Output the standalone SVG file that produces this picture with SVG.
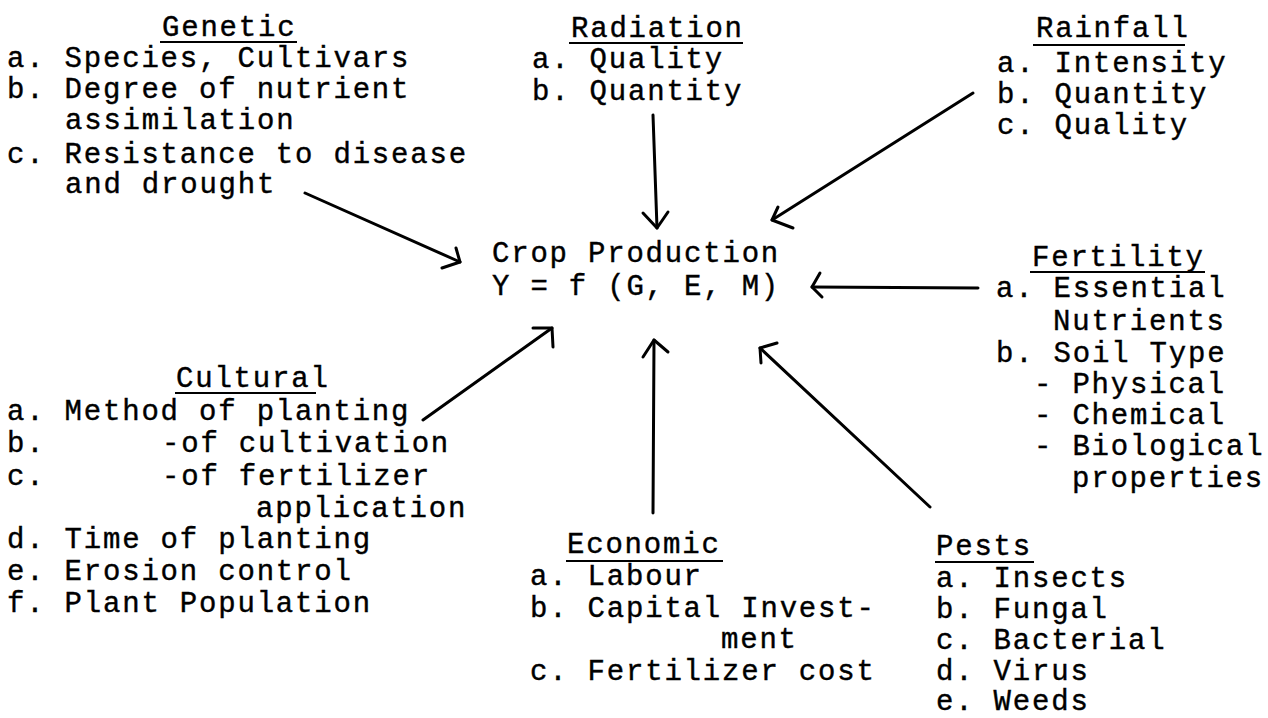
<svg xmlns="http://www.w3.org/2000/svg" width="1268" height="718" viewBox="0 0 1268 718">
<style>
text { font-family: "Liberation Mono", "DejaVu Sans Mono", monospace; font-size: 29px; letter-spacing: 1.8px; fill: #000; stroke: #000; stroke-width: 0.4; }
.ul { stroke: #000; stroke-width: 2; }
.conn line { stroke: #000; stroke-width: 3; stroke-linecap: round; }
.conn polyline { fill: none; stroke: #000; stroke-width: 3; stroke-linecap: round; stroke-linejoin: round; }
</style>
<rect width="1268" height="718" fill="#fff"/>

<g id="genetic">
<text x="162" y="36">Genetic</text>
<line class="ul" x1="160" y1="42" x2="297" y2="42"/>
<text x="7" y="67">a. Species, Cultivars</text>
<text x="7" y="98">b. Degree of nutrient</text>
<text x="65" y="129">assimilation</text>
<text x="7" y="163">c. Resistance to disease</text>
<text x="65" y="193">and drought</text>
</g>

<g id="radiation">
<text x="571" y="37">Radiation</text>
<line class="ul" x1="569" y1="43" x2="743" y2="43"/>
<text x="532" y="68">a. Quality</text>
<text x="532" y="100">b. Quantity</text>
</g>

<g id="rainfall">
<text x="1036" y="37">Rainfall</text>
<line class="ul" x1="1033" y1="45" x2="1185" y2="45"/>
<text x="997" y="72">a. Intensity</text>
<text x="997" y="103">b. Quantity</text>
<text x="997" y="134">c. Quality</text>
</g>

<g id="crop-production">
<text x="492" y="262">Crop Production</text>
<text x="492" y="295">Y = f (G, E, M)</text>
</g>

<g id="fertility">
<text x="1032" y="266">Fertility</text>
<line class="ul" x1="1030" y1="272" x2="1205" y2="272"/>
<text x="996" y="297">a. Essential</text>
<text x="1053" y="330">Nutrients</text>
<text x="996" y="362">b. Soil Type</text>
<text x="1034" y="393">- Physical</text>
<text x="1034" y="424">- Chemical</text>
<text x="1034" y="455">- Biological</text>
<text x="1072" y="487">properties</text>
</g>

<g id="cultural">
<text x="176" y="387">Cultural</text>
<line class="ul" x1="175" y1="393" x2="316" y2="393"/>
<text x="7" y="420">a. Method of planting</text>
<text x="7" y="452">b.</text>
<text x="162" y="452">-of cultivation</text>
<text x="7" y="485">c.</text>
<text x="162" y="485">-of fertilizer</text>
<text x="256" y="517">application</text>
<text x="7" y="548">d. Time of planting</text>
<text x="7" y="580">e. Erosion control</text>
<text x="7" y="612">f. Plant Population</text>
</g>

<g id="economic">
<text x="567" y="553">Economic</text>
<line class="ul" x1="566" y1="561" x2="723" y2="561"/>
<text x="530" y="585">a. Labour</text>
<text x="530" y="617">b. Capital Invest-</text>
<text x="721" y="648">ment</text>
<text x="530" y="680">c. Fertilizer cost</text>
</g>

<g id="pests">
<text x="936" y="555">Pests</text>
<line class="ul" x1="935" y1="562" x2="1034" y2="562"/>
<text x="936" y="587">a. Insects</text>
<text x="936" y="618">b. Fungal</text>
<text x="936" y="649">c. Bacterial</text>
<text x="936" y="680">d. Virus</text>
<text x="936" y="710">e. Weeds</text>
</g>

<g id="connectors" class="conn">
<line x1="305" y1="193" x2="460" y2="262"/>
<polyline points="456,248 460,262 442,268"/>
<line x1="653" y1="115" x2="657" y2="228"/>
<polyline points="643,213 657,228 668,212"/>
<line x1="973" y1="93" x2="772" y2="220"/>
<polyline points="778,207 772,220 793,228"/>
<line x1="978" y1="288" x2="812" y2="287"/>
<polyline points="820,273 812,287 822,297"/>
<line x1="930" y1="507" x2="760" y2="348"/>
<polyline points="777,343 760,348 761,363"/>
<line x1="653" y1="513" x2="654" y2="340"/>
<polyline points="643,357 654,340 668,352"/>
<line x1="423" y1="420" x2="552" y2="328"/>
<polyline points="533,328 552,328 553,347"/>
</g>
</svg>
